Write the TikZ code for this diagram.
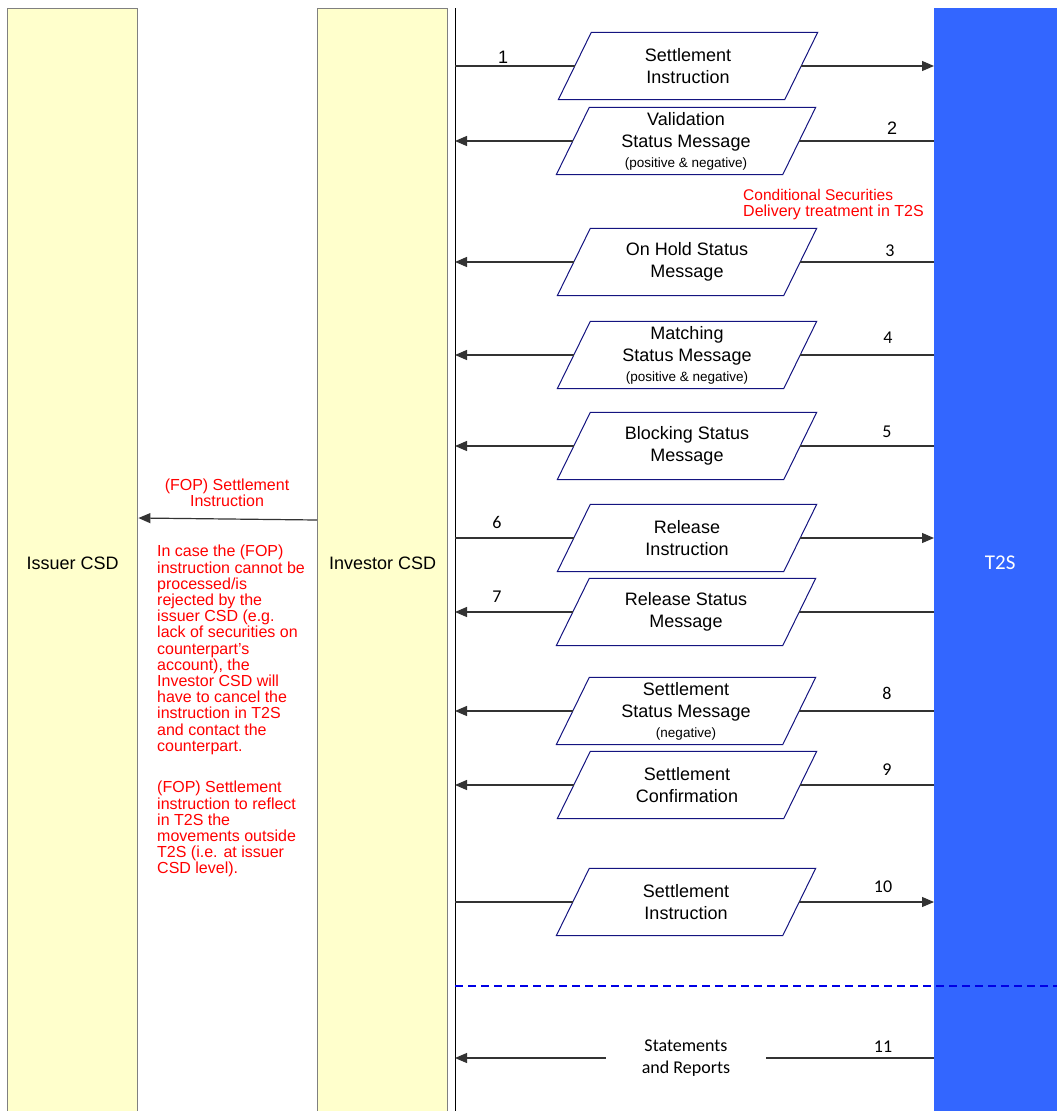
\documentclass[tikz,border=0pt]{standalone}
\usepackage{fontspec}
\setmainfont{Liberation Sans}
\newfontfamily\calibri{Carlito}
\usetikzlibrary{arrows.meta}

\definecolor{laneYellow}{RGB}{255,255,204}
\definecolor{laneBlue}{RGB}{51,102,255}
\definecolor{msgNavy}{RGB}{20,20,128}
\definecolor{noteRed}{RGB}{255,0,0}

\tikzset{
  lane/.style={draw=black!50, line width=1.4pt, fill=laneYellow, anchor=north west,
    inner sep=0pt, font=\fontsize{18}{22}\selectfont},
  msg/.style={rectangle, minimum width=226pt, minimum height=67pt, inner sep=0pt,
    align=center, font=\fontsize{18}{22}\selectfont},
  msgbox/.style={draw=msgNavy, line width=1pt},
  flow/.style={draw=black!80, line width=1.2pt},
  tip/.style={-{Triangle[length=12pt,width=10pt]}},
  numlbl/.style={font=\calibri\fontsize{18}{18}\selectfont},
  note/.style={text=noteRed, font=\fontsize{16}{16.2}\selectfont, inner sep=0pt}
}

\begin{document}
\begin{tikzpicture}[x=1pt,y=-1pt]

\useasboundingbox (0,0) rectangle (1057,1111);
\clip (0,0) rectangle (1057,1111);

%% ---------- swim lanes ----------
\node[lane, minimum width=130pt, minimum height=1110pt] (issuer) at (7,8) {Issuer CSD};
\node[lane, minimum width=130pt, minimum height=1110pt] (investor) at (317,8) {Investor CSD};
\node[fill=laneBlue, anchor=north west, inner sep=0pt, minimum width=132pt,
  minimum height=1110pt, text=white, font=\calibri\fontsize{21}{24}\selectfont]
  (t2s) at (934,8) {T2S};

\coordinate (vtop) at (455,8);
\coordinate (vbot) at (455,1112);
\draw[black, line width=1pt] (vtop) -- (vbot);

%% ---------- messages between Investor CSD and T2S ----------
\foreach \id/\x/\y/\txt in {
  1/688/66/{Settlement\\Instruction},
  2/686/141/{Validation\\Status Message\\[-2pt]{\fontsize{13.5}{16}\selectfont(positive \& negative)}},
  3/687/262/{On Hold Status\\Message},
  4/687/355/{Matching\\Status Message\\[-2pt]{\fontsize{13.5}{16}\selectfont(positive \& negative)}},
  5/687/446/{Blocking Status\\Message},
  6/687/538/{Release\\Instruction},
  7/686/612/{Release Status\\Message},
  8/686/711/{Settlement\\Status Message\\[-2pt]{\fontsize{13.5}{16}\selectfont(negative)}},
  9/687/785/{Settlement\\Confirmation},
  10/686/902/{Settlement\\Instruction}} {
  \node[msg] (m\id) at (\x,\y) {\txt};
  \draw[msgbox] ([xshift=-16.5pt]m\id.south west) -- ([xshift=16.5pt]m\id.north west)
    -- ([xshift=16.5pt]m\id.north east) -- ([xshift=-16.5pt]m\id.south east) -- cycle;
}

%% to T2S
\foreach \id in {1,6,10} {
  \draw[flow] (m\id.west -| vtop) -- (m\id.west);
  \draw[flow, tip] (m\id.east) -- (m\id.east -| t2s.west);
}
%% from T2S
\foreach \id in {2,3,4,5,7,8,9} {
  \draw[flow] (m\id.east -| t2s.west) -- (m\id.east);
  \draw[flow, tip] (m\id.west) -- (m\id.west -| vtop);
}

%% statements and reports
\node[font=\calibri\fontsize{18}{22}\selectfont, align=center, minimum width=160pt,
  inner sep=0pt] (rep) at (686,1058) {Statements\\and Reports};
\draw[flow] (rep.east -| t2s.west) -- (rep.east);
\draw[flow, tip] (rep.west) -- (rep.west -| vtop);

%% ---------- step numbers ----------
\node[font=\fontsize{18}{18}\selectfont] (n1) at (503,57) {1};
\node[font=\fontsize{18}{18}\selectfont] (n2) at (892,128) {2};
\foreach \num/\x/\y in {3/890/251, 4/888/338, 5/887/432, 6/497/522, 7/497/597,
  8/887/693, 9/887/770, 10/883/887, 11/883/1047} {
  \node[numlbl] (n\num) at (\x,\y) {\num};
}

%% ---------- separator ----------
\coordinate (dashL) at (455,986);
\coordinate (dashR) at (1060,986);
\draw[blue!90!black, line width=1.3pt, dash pattern=on 8pt off 5pt] (dashL) -- (dashR);

%% ---------- notes in red ----------
\node[note, align=left, anchor=north west] (cond) at (743,189)
  {\fontsize{15.5}{16}\selectfont Conditional Securities\\Delivery treatment in T2S};

\node[note, align=center] (foplbl) at (227,493) {(FOP) Settlement\\Instruction};
\draw[flow, tip] (investor.west |- 0,520) -- (issuer.east |- 0,518);

\node[note, align=left, anchor=north west] (case) at (157,545)
  {In case the (FOP)\\instruction cannot be\\processed/is\\rejected by the\\issuer CSD (e.g.\\lack of securities on\\counterpart's\\account), the\\Investor CSD will\\have to cancel the\\instruction in T2S\\and contact the\\counterpart.};

\node[note, align=left, anchor=north west] (mirror) at (157,781)
  {(FOP) Settlement\\instruction to reflect\\in T2S the\\movements outside\\T2S (i.e. at issuer\\CSD level).};

\end{tikzpicture}
\end{document}
